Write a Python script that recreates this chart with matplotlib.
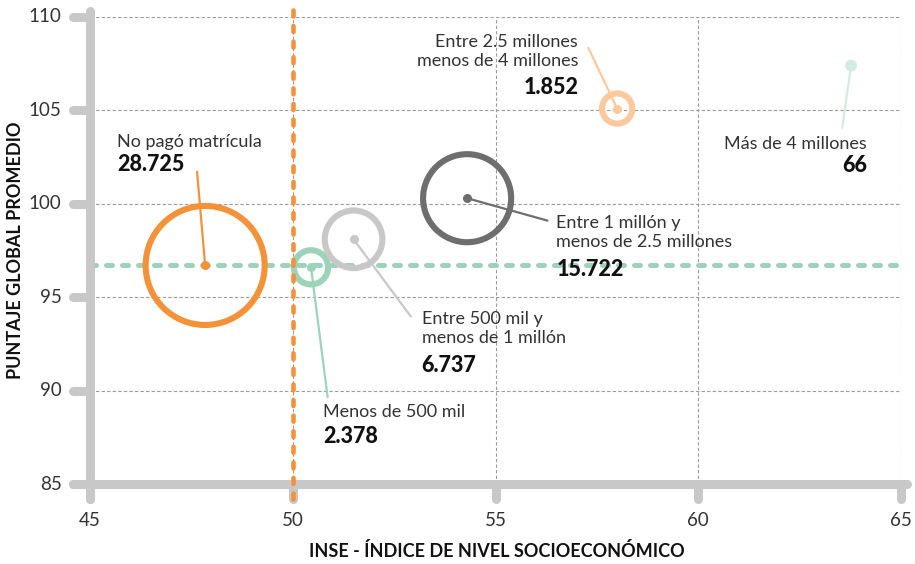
import matplotlib
matplotlib.use("Agg")
import matplotlib.pyplot as plt
from matplotlib.transforms import blended_transform_factory

# ---------------- data ----------------
categories = ["No pagó matrícula", "Menos de 500 mil", "Entre 500 mil y\nmenos de 1 millón",
              "Entre 1 millón y\nmenos de 2.5 millones", "Entre 2.5 millones\nmenos de 4 millones",
              "Más de 4 millones"]
counts_label = ["28.725", "2.378", "6.737", "15.722", "1.852", "66"]
counts = [28725, 2378, 6737, 15722, 1852, 66]
inse = [47.84, 50.45, 51.5, 54.3, 58.0, 63.77]
puntaje = [96.7, 96.6, 98.1, 100.3, 105.1, 107.4]
ref_puntaje = 96.7
ref_inse = 50
xticks = [45, 50, 55, 60, 65]
yticks = [85, 90, 95, 100, 105, 110]
xlabel = "INSE - ÍNDICE DE NIVEL SOCIOECONÓMICO"
ylabel = "PUNTAJE GLOBAL PROMEDIO"

# ---------------- style ----------------
colors = ["#F39239", "#9DD3BA", "#C8C8C8", "#6E6E6E", "#FBC99B", "#D2ECE0"]
axis_gray = "#C8C8C8"
SIZE_SCALE = 0.2557
# label layout (data coords)
label_x = [45.67, 50.74, 53.18, 56.50, 57.04, 64.16]
label_y = [103.32, 88.85, 93.31, 98.46, 108.15, 103.22]
number_y = [102.09, 87.56, 91.36, 96.49, 106.21, 102.04]
leader_x = [47.64, 50.86, 52.91, 56.28, 57.29, 63.55]
leader_y = [101.72, 89.65, 93.97, 99.10, 108.34, 104.07]
halign = ["left", "left", "left", "left", "right", "right"]

plt.rcParams["font.family"] = ["Lato", "DejaVu Sans"]

fig = plt.figure(figsize=(9.15, 5.64), dpi=100)
ax = fig.add_axes([90 / 915, 1 - 484 / 564, (901 - 90) / 915, (484 - 17) / 564])
ax.set_xlim(45, 65)
ax.set_ylim(85, 110)
for s in ax.spines.values():
    s.set_visible(False)
ax.set_xticks([])
ax.set_yticks([])

# grid
for yv in yticks[1:]:
    ax.axhline(yv, color="#9a9a9a", lw=0.8, ls=(0, (3, 2)), zorder=1)
for xv in xticks[1:]:
    ax.axvline(xv, color="#9a9a9a", lw=0.8, ls=(0, (3, 2)), zorder=1)

# axes lines (thick rounded)
tx = blended_transform_factory(ax.transAxes, ax.transData)
ty = blended_transform_factory(ax.transData, ax.transAxes)
ax.plot([0, 0], [-0.032, 1.013], transform=ax.transAxes, color=axis_gray, lw=6.5,
        solid_capstyle="round", clip_on=False, zorder=3)
ax.plot([-0.021, 1.0075], [0, 0], transform=ax.transAxes, color=axis_gray, lw=6.5,
        solid_capstyle="round", clip_on=False, zorder=3)
for yv in yticks:
    ax.plot([-0.021, 0], [yv, yv], transform=tx, color=axis_gray, lw=6.5,
            solid_capstyle="round", clip_on=False, zorder=3)
    ax.text(-0.035, yv, str(yv), transform=tx, ha="right", va="center",
            fontsize=13.5, fontweight="normal", color="#333333")
for xv in xticks:
    ax.plot([xv, xv], [-0.032, 0], transform=ty, color=axis_gray, lw=6.5,
            solid_capstyle="round", clip_on=False, zorder=3)
    ax.text(xv, -0.078, str(xv), transform=ty, ha="center", va="center",
            fontsize=13.5, fontweight="normal", color="#333333")

# reference lines
ax.plot([0, 1], [ref_puntaje, ref_puntaje], transform=tx, color=colors[1], lw=3.6,
        ls=(0, (1.2, 2.0)), dash_capstyle="round", zorder=2, clip_on=False)
ax.plot([ref_inse, ref_inse], [-0.032, 1.015], transform=ty, color=colors[0], lw=3.3,
        ls=(0, (1.3, 2.1)), dash_capstyle="round", zorder=5, clip_on=False)

# bubbles
ax.scatter(inse, puntaje, s=[c * SIZE_SCALE for c in counts], facecolors="none",
           edgecolors=colors, linewidths=4.4, zorder=4, clip_on=False)

# leaders and labels
for i in range(len(categories)):
    ax.plot([leader_x[i], inse[i]], [leader_y[i], puntaje[i]], color=colors[i], lw=1.6,
            solid_capstyle="round", zorder=6, clip_on=False)
    ax.plot([inse[i]], [puntaje[i]], "o", color=colors[i], ms=5.5, zorder=6, clip_on=False)
    ax.text(label_x[i], label_y[i], categories[i], ha=halign[i], va="center",
            fontsize=13, fontweight="normal", color="#333333", linespacing=1.2, zorder=7)
    ax.text(label_x[i], number_y[i], counts_label[i], ha=halign[i], va="center",
            fontsize=15.5, fontweight="black", color="#111111", zorder=7)

fig.text(497 / 915, 1 - 551 / 564, xlabel, ha="center", va="center", fontsize=13,
         fontweight="bold", color="#111111")
fig.text(16 / 915, 1 - 250 / 564, ylabel, ha="center", va="center", fontsize=13,
         fontweight="bold", color="#111111", rotation=90)

fig.savefig("out.png", dpi=100)
